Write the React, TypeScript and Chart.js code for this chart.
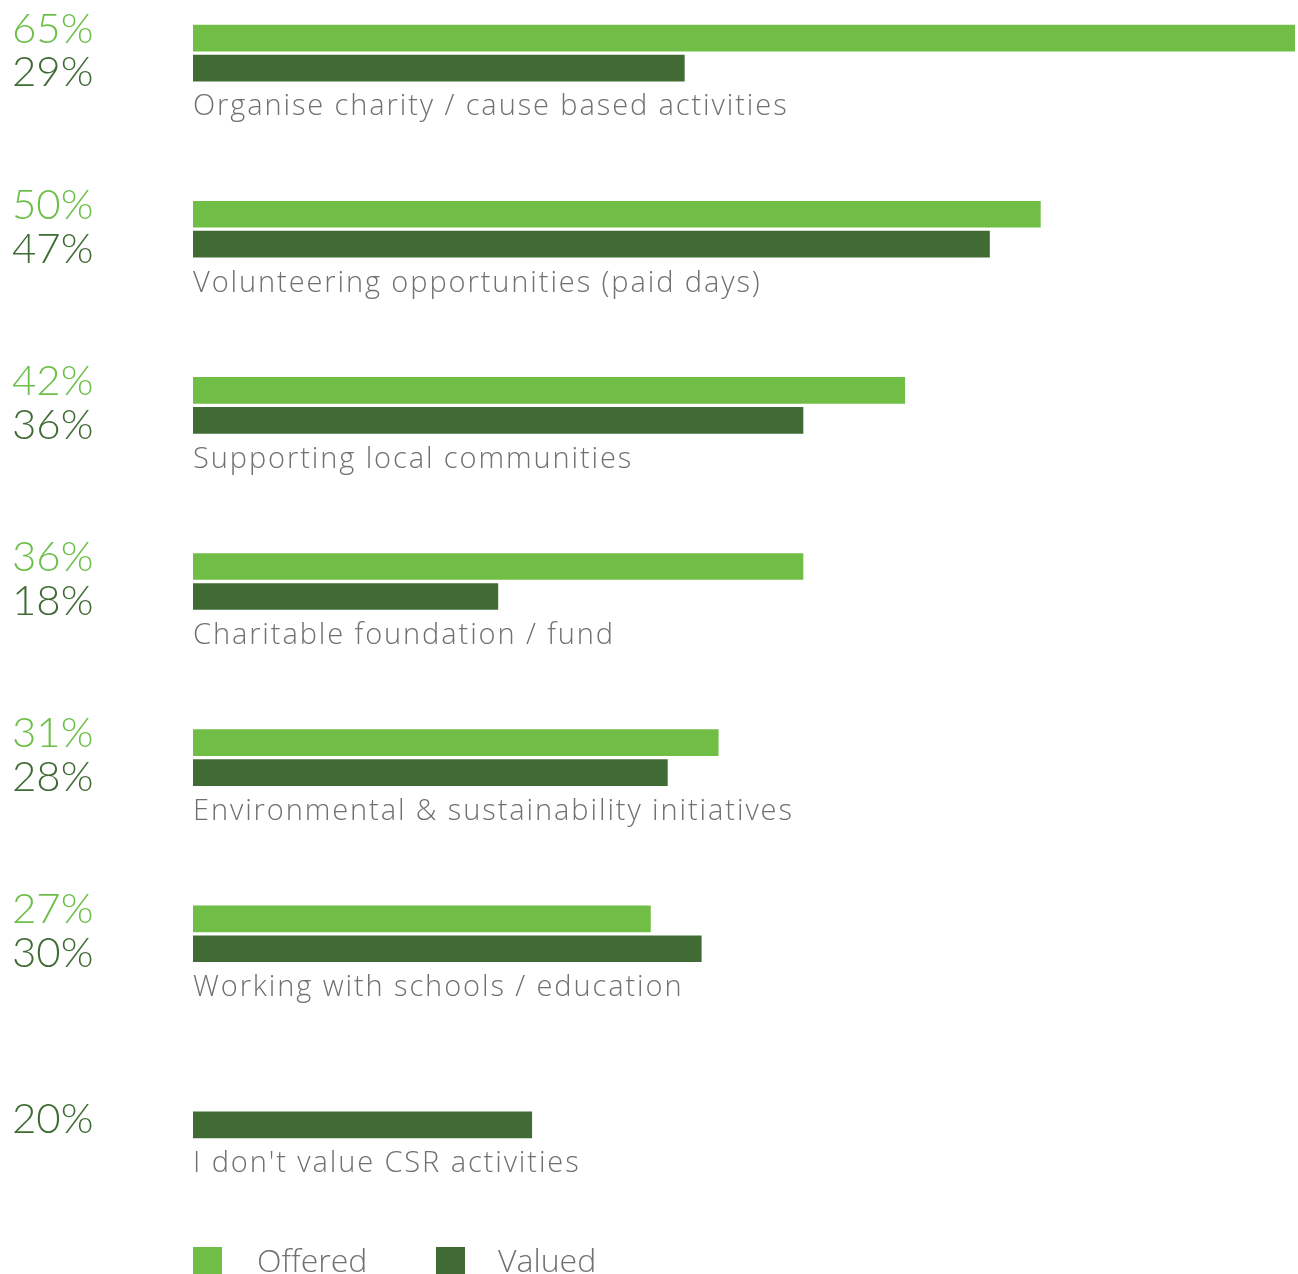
import React, { useEffect, useRef } from "react";
import { Chart, registerables } from "chart.js";

Chart.register(...registerables);

const categories = [
  "Organise charity / cause based activities",
  "Volunteering opportunities (paid days)",
  "Supporting local communities",
  "Charitable foundation / fund",
  "Environmental & sustainability initiatives",
  "Working with schools / education",
  "I don't value CSR activities",
];
const offered: (number | null)[] = [65, 50, 42, 36, 31, 27, null];
const valued: (number | null)[] = [29, 47, 36, 18, 28, 30, 20];
const seriesNames = ["Offered", "Valued"];
const seriesColors = ["#70BE45", "#406B34"];
const textColors = ["#6DBF4B", "#3F6B35"];
const labelColor = "#707070";
const NUMFONT = "Lato, 'Open Sans', sans-serif";
const LABFONT = "'Open Sans', Lato, sans-serif";

const textPlugin = {
  id: "csrText",
  afterDatasetsDraw(chart: any) {
    const ctx = chart.ctx;
    const m0 = chart.getDatasetMeta(0);
    const m1 = chart.getDatasetMeta(1);
    ctx.save();
    ctx.textAlign = "left";
    ctx.textBaseline = "alphabetic";
    categories.forEach((cat, i) => {
      const e1 = m1.data[i];
      const darkTop = e1.y - e1.height / 2;
      const darkBottom = e1.y + e1.height / 2;
      const e0 = m0.data[i];
      const lightTop = e0.y - e0.height / 2;
      ctx.font = `300 42px ${NUMFONT}`;
      (ctx as any).letterSpacing = "0px";
      if (offered[i] !== null) {
        ctx.fillStyle = textColors[0];
        ctx.fillText(`${offered[i]}%`, 12, lightTop + 18);
        ctx.fillStyle = textColors[1];
        ctx.fillText(`${valued[i]}%`, 12, darkBottom + 5);
      } else {
        ctx.fillStyle = textColors[1];
        ctx.fillText(`${valued[i]}%`, 12, darkTop + 21);
      }
      ctx.font = `300 29px ${LABFONT}`;
      (ctx as any).letterSpacing = "1.9px";
      ctx.fillStyle = labelColor;
      ctx.fillText(cat, chart.chartArea.left, darkBottom + 34);
    });
    // legend
    const legendTop = chart.chartArea.bottom + 49;
    const xs = [193, 436];
    const txs = [257, 498];
    seriesNames.forEach((name, k) => {
      ctx.fillStyle = seriesColors[k];
      ctx.fillRect(xs[k], legendTop, 29, 29);
      ctx.font = `300 32px ${LABFONT}`;
      (ctx as any).letterSpacing = "0px";
      ctx.fillStyle = labelColor;
      ctx.fillText(name, txs[k], legendTop + 25);
    });
    ctx.restore();
  },
};

export default function App() {
  const ref = useRef<HTMLCanvasElement | null>(null);
  useEffect(() => {
    if (!ref.current) return;
    const chart = new Chart(ref.current, {
      type: "bar",
      data: {
        labels: categories,
        datasets: [
          {
            label: seriesNames[0],
            data: offered,
            backgroundColor: seriesColors[0],
            categoryPercentage: 0.3405,
            barPercentage: 0.89,
          },
          {
            label: seriesNames[1],
            data: valued,
            backgroundColor: seriesColors[1],
            categoryPercentage: 0.3405,
            barPercentage: 0.89,
          },
        ],
      },
      options: {
        indexAxis: "y",
        animation: false,
        responsive: false,
        maintainAspectRatio: false,
        layout: { padding: { left: 193, right: 3, top: 0, bottom: 76 } },
        plugins: { legend: { display: false }, tooltip: { enabled: false } },
        scales: {
          x: { display: false, min: 0, max: 65, grid: { display: false } },
          y: { display: false, grid: { display: false } },
        },
      },
      plugins: [textPlugin],
    });
    return () => chart.destroy();
  }, []);
  return (
    <div
      style={{
        position: "fixed",
        left: 0,
        top: -35,
        width: 1298,
        height: 1309,
        overflow: "hidden",
        background: "#fff",
      }}
    >
      <canvas ref={ref} width={1298} height={1309} style={{ display: "block" }} />
    </div>
  );
}
